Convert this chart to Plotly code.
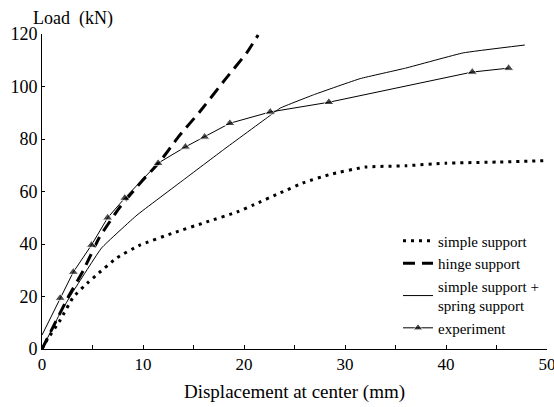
import plotly.graph_objects as go

# Data
simple_x = [0, 0.5, 1.8, 3.1, 4.6, 5.4, 7.4, 9.7, 13, 16.3, 19.3, 21, 23.6, 26, 28.5, 32, 36, 40, 45, 50]
simple_y = [0, 3.4, 11, 19.8, 25.5, 28.2, 34.7, 39.6, 44.2, 48.4, 52.2, 55, 59.5, 63.5, 66.5, 69.3, 69.8, 70.8, 71.2, 71.8]

hinge_x = [0, 2.6, 4.1, 5.7, 7.7, 9.9, 11.7, 13.5, 15.6, 18.1, 20.3, 21.4]
hinge_y = [0, 19.8, 30, 42.7, 54, 64, 71.5, 80.8, 90.3, 102.5, 113, 119.6]

spring_x = [0, 1.8, 3.1, 5.9, 9.4, 14, 18, 22.6, 23.6, 27, 31.5, 36, 41.7, 47.8]
spring_y = [0, 13.7, 22, 38.5, 51, 64.4, 76, 89, 91.8, 97, 103, 107, 112.8, 115.8]

exp_x = [0, 1.8, 3.1, 4.9, 6.5, 8.2, 11.5, 14.2, 16.1, 18.6, 22.6, 28.4, 42.6, 46.2]
exp_y = [5.3, 19.4, 29.3, 39.6, 50, 57.5, 70.8, 77, 80.8, 86, 90.3, 94, 105.5, 107]

x_ticks = [0, 10, 20, 30, 40, 50]
y_ticks = [0, 20, 40, 60, 80, 100, 120]

FONT = "Liberation Serif, Times New Roman, serif"

fig = go.Figure()
fig.add_trace(go.Scatter(x=simple_x, y=simple_y, mode="lines", name="simple support",
                         line=dict(color="black", width=3, dash="3px,5px", shape="spline", smoothing=0.4)))
fig.add_trace(go.Scatter(x=hinge_x, y=hinge_y, mode="lines", name="hinge support",
                         line=dict(color="black", width=3, dash="12px,7px", shape="spline", smoothing=0.3)))
fig.add_trace(go.Scatter(x=spring_x, y=spring_y, mode="lines", name="simple support +<br>spring support",
                         line=dict(color="black", width=1, shape="spline", smoothing=0.3)))
fig.add_trace(go.Scatter(x=exp_x, y=exp_y, mode="lines+markers", name="experiment",
                         line=dict(color="black", width=1),
                         marker=dict(symbol="triangle-up", size=[0] + [9] * (len(exp_x) - 1),
                                     color="black")))

fig.update_layout(
    width=554, height=407,
    margin=dict(l=42, r=7, t=34, b=58),
    paper_bgcolor="white", plot_bgcolor="white",
    font=dict(family=FONT, color="black", size=17),
    showlegend=True,
    legend=dict(x=0.705, y=0.395, xanchor="left", yanchor="top",
                font=dict(family=FONT, size=15), bgcolor="rgba(0,0,0,0)",
                tracegroupgap=0, itemwidth=30),
    xaxis=dict(range=[0, 50], tickvals=x_ticks, showgrid=False, zeroline=False,
               showline=True, linecolor="black", linewidth=1, automargin=False,
               ticks="inside", ticklen=4, tickcolor="black", ticklabeloverflow="allow",
               minor=dict(ticks="inside", ticklen=4, dtick=5, tickcolor="black"),
               tickfont=dict(family=FONT, size=17),
               title=dict(text="Displacement at center (mm)", font=dict(family=FONT, size=19), standoff=11)),
    yaxis=dict(range=[0, 120], tickvals=y_ticks, showgrid=False, zeroline=False,
               showline=True, linecolor="black", linewidth=1, automargin=False,
               ticks="inside", ticklen=3, tickcolor="black",
               tickfont=dict(family=FONT, size=18)),
    annotations=[
        dict(text="Load  (kN)", xref="paper", yref="paper", x=-0.022, y=1.0,
             xanchor="left", yanchor="bottom", yshift=3, showarrow=False,
             font=dict(family=FONT, size=18)),
    ],
)

fig.write_html("out.html")
